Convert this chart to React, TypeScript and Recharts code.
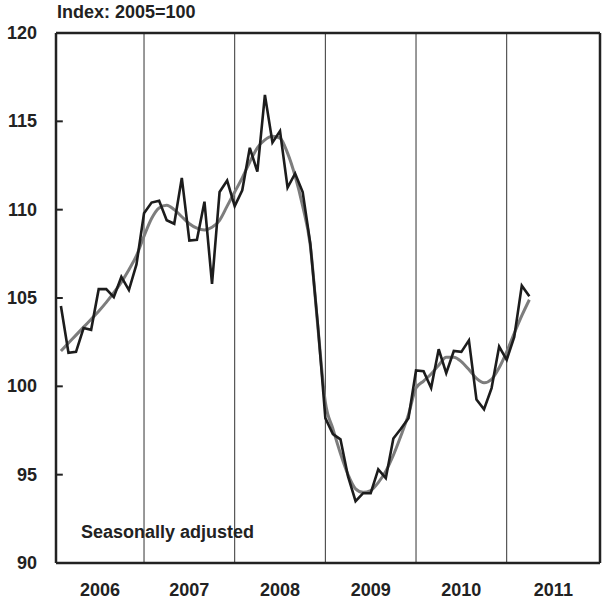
import React from 'react'
import { LineChart, Line, XAxis, YAxis, ReferenceLine } from 'recharts'

// x is month index, 0 = Jan 2006
const yearLabels = ['2006', '2007', '2008', '2009', '2010', '2011']
const yearLabelPos = [5.18, 17, 29, 41, 53, 65.18]
const yearDividers = [11, 23, 35, 47, 59]
const yTicks = [90, 95, 100, 105, 110, 115, 120]
const innerTicks = [95, 100, 105, 110, 115]
const xDomain: [number, number] = [-0.65, 71.35]

// monthly index, seasonally adjusted (Jan 2006 - Mar 2011)
const actual = [
  104.55, 101.9, 101.95, 103.3, 103.2, 105.5, 105.5, 105.05, 106.2, 105.45, 106.9, 109.8,
  110.4, 110.5, 109.4, 109.2, 111.8, 108.25, 108.3, 110.45, 105.8, 111.0, 111.65, 110.2,
  111.1, 113.5, 112.15, 116.5, 113.8, 114.45, 111.25, 112.05, 111.0, 108.1, 103.5, 98.2,
  97.3, 97.0, 94.9, 93.5, 93.95, 93.95, 95.3, 94.8, 97.05, 97.6, 98.2, 100.9,
  100.85, 99.9, 102.1, 100.75, 102.0, 101.95, 102.6, 99.25, 98.7, 99.9, 102.25, 101.5,
  102.8, 105.7, 105.1,
]

// smoothed trend
const trend = [
  102.0, 102.45, 102.9, 103.35, 103.8, 104.25, 104.75, 105.3, 105.9, 106.6, 107.4, 108.5,
  109.5, 110.1, 110.25, 110.0, 109.6, 109.2, 108.95, 108.85, 109.0, 109.4, 110.2, 111.0,
  111.8, 112.7, 113.5, 113.95, 114.15, 114.05, 113.2, 111.9, 110.2, 108.0, 103.4, 99.1,
  97.6, 96.2, 95.0, 94.2, 94.0, 94.1, 94.55, 95.2, 96.1, 97.2, 98.4, 99.9,
  100.3, 100.7, 101.2, 101.65, 101.65, 101.4, 100.95, 100.45, 100.2, 100.4, 101.05, 101.95,
  103.0, 104.0, 104.9,
]

const data = actual.map((v, i) => ({ m: i, actual: v, trend: trend[i] }))

const font = "'Liberation Sans', Arial, Helvetica, sans-serif"
const ink = '#222'

const YTick = (props: any) => {
  const { x, y, payload } = props
  return (
    <text x={x} y={y} textAnchor="end" dominantBaseline="central" fontFamily={font} fontWeight="bold" fontSize={18} fill={ink}>
      {payload.value}
    </text>
  )
}

const XTick = (props: any) => {
  const { x, y, payload } = props
  const idx = yearLabelPos.indexOf(payload.value)
  return (
    <text x={x} y={y + 25} textAnchor="middle" dominantBaseline="central" fontFamily={font} fontWeight="bold" fontSize={18} fill={ink}>
      {yearLabels[idx]}
    </text>
  )
}

const App = () => {
  return (
    <div style={{ position: 'absolute', left: 0, top: 0, width: 602, height: 607, background: '#fff' }}>
      <LineChart width={602} height={607} data={data} margin={{ top: 33, right: 2, bottom: 0, left: 0 }}>
        <XAxis
          dataKey="m"
          type="number"
          domain={xDomain}
          ticks={yearLabelPos}
          interval={0}
          tick={<XTick />}
          tickLine={false}
          tickSize={0}
          height={44}
          axisLine={{ stroke: ink, strokeWidth: 2.5 }}
          allowDataOverflow
        />
        <YAxis
          type="number"
          domain={[90, 120]}
          ticks={yTicks}
          interval={0}
          width={56}
          tick={<YTick />}
          tickLine={false}
          tickSize={0}
          tickMargin={19}
          axisLine={{ stroke: ink, strokeWidth: 2.5 }}
          allowDataOverflow
        />
        {yearDividers.map((d) => (
          <ReferenceLine key={d} x={d} stroke="#333" strokeWidth={1} />
        ))}
        {innerTicks.map((t) => (
          <ReferenceLine
            key={'t' + t}
            segment={[
              { x: xDomain[0], y: t },
              { x: xDomain[0] + 0.9, y: t },
            ]}
            stroke={ink}
            strokeWidth={2}
          />
        ))}
        <ReferenceLine y={120} stroke={ink} strokeWidth={2.5} />
        <ReferenceLine x={xDomain[1]} stroke={ink} strokeWidth={2.5} />
        <Line type="monotone" dataKey="trend" stroke="#7d7d7d" strokeWidth={3} dot={false} isAnimationActive={false} />
        <Line type="linear" dataKey="actual" stroke="#1c1c1c" strokeWidth={2.6} dot={false} isAnimationActive={false} />
      </LineChart>
      <div style={{ position: 'absolute', left: 57, top: 3, fontFamily: font, fontWeight: 'bold', fontSize: 18, lineHeight: '18px', color: ink, whiteSpace: 'nowrap' }}>
        Index: 2005=100
      </div>
      <div style={{ position: 'absolute', left: 81, top: 523, fontFamily: font, fontWeight: 'bold', fontSize: 18, lineHeight: '18px', color: ink, whiteSpace: 'nowrap' }}>
        Seasonally adjusted
      </div>
    </div>
  )
}

export default App
